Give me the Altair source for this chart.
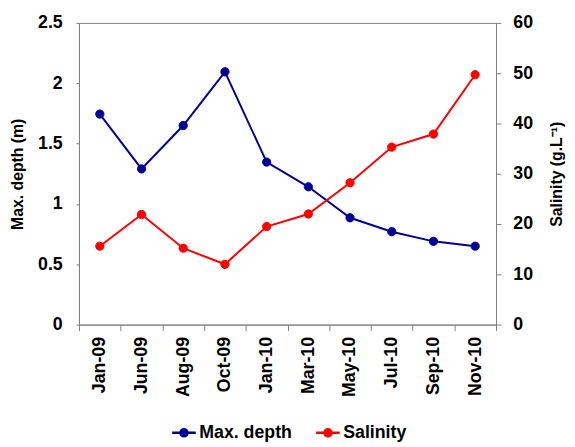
import altair as alt
import pandas as pd

months = ["Jan-09", "Jun-09", "Aug-09", "Oct-09", "Jan-10",
          "Mar-10", "May-10", "Jul-10", "Sep-10", "Nov-10"]
max_depth = [1.745, 1.29, 1.65, 2.095, 1.347, 1.142, 0.885, 0.77, 0.69, 0.65]
salinity = [15.6, 21.9, 15.2, 12.0, 19.5, 22.0, 28.2, 35.3, 37.9, 49.7]
series_names = ["Max. depth", "Salinity"]
series_colors = ["#000099", "#ff0000"]
depth_ticks = [0, 0.5, 1, 1.5, 2, 2.5]
sal_ticks = [0, 10, 20, 30, 40, 50, 60]

df_d = pd.DataFrame({"month": months, "value": max_depth, "series": series_names[0]})
df_s = pd.DataFrame({"month": months, "value": salinity, "series": series_names[1]})

FONT = "Liberation Sans"
AX = "#808080"

cscale = alt.Scale(domain=series_names, range=series_colors)
leg = alt.Legend(
    title=None, orient="none", direction="horizontal", legendX=93, legendY=402,
    symbolType="M-1,0L1,0M-0.3,0A0.3,0.3,0,1,1,0.3,0A0.3,0.3,0,1,1,-0.3,0Z",
    symbolSize=576, symbolStrokeWidth=2.5,
    labelFont=FONT, labelFontSize=18, labelFontWeight="bold", labelColor="black",
    columnPadding=18, labelOffset=2,
)

x_enc = alt.X(
    "month:N", sort=months,
    scale=alt.Scale(type="band", paddingInner=0, paddingOuter=0),
    axis=alt.Axis(title=None, labelAngle=270, labelAlign="right", labelBaseline="middle",
                  tickBand="extent", tickSize=6, labelPadding=6,
                  labelFont=FONT, labelFontSize=18, labelFontWeight="bold", labelColor="black",
                  domainColor=AX, tickColor=AX, grid=False),
)


def layer_for(df, domain, axis):
    y = alt.Y("value:Q", scale=alt.Scale(domain=domain, nice=False, zero=True), axis=axis)
    base = alt.Chart(df).encode(x=x_enc, y=y)
    line = base.mark_line(strokeWidth=2).encode(
        stroke=alt.Stroke("series:N", scale=cscale, legend=leg))
    pts = base.mark_point(shape="circle", filled=True, size=70, strokeWidth=1, opacity=1).encode(
        fill=alt.Fill("series:N", scale=cscale, legend=leg),
        stroke=alt.Stroke("series:N", scale=cscale, legend=leg))
    return alt.layer(line, pts)


left_axis = alt.Axis(
    title="Max. depth (m)", orient="left", values=depth_ticks, format=".1~f", grid=False,
    tickSize=3, labelPadding=14, labelFont=FONT, labelFontSize=18, labelFontWeight="bold",
    labelColor="black", titleFont=FONT, titleFontSize=16, titleFontWeight="bold",
    titleColor="black", titlePadding=12, domainColor=AX, tickColor=AX,
)
right_axis = alt.Axis(
    title="Salinity (g.L\u207b\u00b9)", orient="right", values=sal_ticks, grid=False,
    tickSize=5, labelPadding=12, labelFont=FONT, labelFontSize=18, labelFontWeight="bold",
    labelColor="black", titleFont=FONT, titleFontSize=16, titleFontWeight="bold",
    titleColor="black", titlePadding=16, titleAngle=270, titleBaseline="top",
    domainColor=AX, tickColor=AX,
)

chart = alt.layer(
    layer_for(df_d, [0, 2.5], left_axis),
    layer_for(df_s, [0, 60], right_axis),
).resolve_scale(y="independent").properties(
    width=423, height=306,
    autosize=alt.AutoSizeParams(type="none"),
    padding={"left": 72, "top": 12, "right": 72, "bottom": 120},
).configure_view(stroke=AX, strokeWidth=1)

chart.save("out.html", embed_options={"renderer": "svg", "actions": False})
